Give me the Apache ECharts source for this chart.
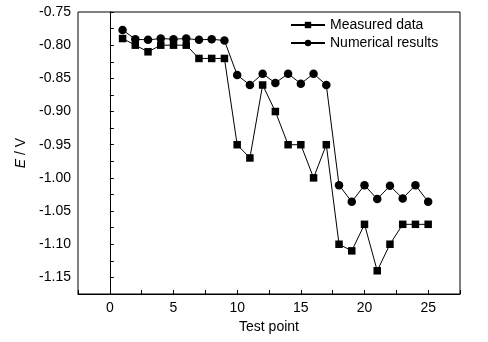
<!DOCTYPE html>
<html><head><meta charset="utf-8">
<script src="https://cdn.jsdelivr.net/npm/echarts@6/dist/echarts.min.js"></script>
<style>html,body{margin:0;padding:0;background:#fff}#c{width:488px;height:342px}</style>
</head><body><div id="c"></div>
<script>
const testPoints = [1,2,3,4,5,6,7,8,9,10,11,12,13,14,15,16,17,18,19,20,21,22,23,24,25];
const measured = [-0.79,-0.80,-0.81,-0.80,-0.80,-0.80,-0.82,-0.82,-0.82,-0.95,-0.97,-0.86,-0.90,-0.95,-0.95,-1.00,-0.95,-1.10,-1.11,-1.07,-1.14,-1.10,-1.07,-1.07,-1.07];
const numerical = [-0.777,-0.791,-0.792,-0.790,-0.791,-0.790,-0.792,-0.791,-0.793,-0.845,-0.860,-0.843,-0.857,-0.843,-0.858,-0.843,-0.860,-1.011,-1.036,-1.011,-1.032,-1.012,-1.031,-1.011,-1.036];
const seriesNames = ['Measured data','Numerical results'];
const xTickLabels = [0,5,10,15,20,25];
const yTickLabels = [-0.75,-0.80,-0.85,-0.90,-0.95,-1.00,-1.05,-1.10,-1.15];

const font = 'Liberation Sans, Arial, sans-serif';
const chart = echarts.init(document.getElementById('c'));
const pair = arr => testPoints.map((x,i)=>[x,arr[i]]);
chart.setOption({
  animation:false,
  backgroundColor:'#fff',
  textStyle:{fontFamily:font,color:'#000'},
  grid:{left:78,right:28,top:12,bottom:48,show:true,borderColor:'#000',borderWidth:1,backgroundColor:'transparent'},
  legend:{
    left:290, top:17, orient:'vertical', itemGap:2, itemWidth:34, itemHeight:8, padding:0,
    data:seriesNames,
    textStyle:{fontFamily:font,fontSize:14,color:'#000',lineHeight:16}
  },
  xAxis:{
    type:'value', min:-2.5, max:27.5, interval:2.5,
    name:'Test point', nameLocation:'middle', nameGap:25,
    nameTextStyle:{fontFamily:font,fontSize:14,color:'#000'},
    axisLine:{lineStyle:{color:'#000',width:1}},
    axisTick:{inside:true,length:4,lineStyle:{color:'#000'}},
    axisLabel:{fontFamily:font,fontSize:14,color:'#000',margin:7,
      formatter:v=>xTickLabels.some(t=>Math.abs(t-v)<1e-6)?String(Math.round(v)):''},
    splitLine:{show:false}
  },
  yAxis:{
    type:'value', min:-1.175, max:-0.75, interval:0.025,
    name:'{i|E} / V', nameLocation:'middle', nameGap:50,
    nameTextStyle:{fontFamily:font,fontSize:14,color:'#000',rich:{i:{fontStyle:'italic',fontFamily:font,fontSize:14,color:'#000'}}},
    axisLine:{lineStyle:{color:'#000',width:1}},
    axisTick:{inside:true,length:4,lineStyle:{color:'#000'}},
    axisLabel:{fontFamily:font,fontSize:14,color:'#000',margin:7,
      formatter:v=>yTickLabels.some(t=>Math.abs(t-v)<1e-6)?v.toFixed(2):''},
    splitLine:{show:false}
  },
  series:[
    {name:seriesNames[0],type:'line',data:pair(measured),symbol:'rect',symbolSize:7.5,
     lineStyle:{color:'#000',width:1},itemStyle:{color:'#000'}},
    {name:seriesNames[1],type:'line',data:pair(numerical),symbol:'circle',symbolSize:8.5,
     lineStyle:{color:'#000',width:1},itemStyle:{color:'#000'}}
  ]
});
</script></body></html>
